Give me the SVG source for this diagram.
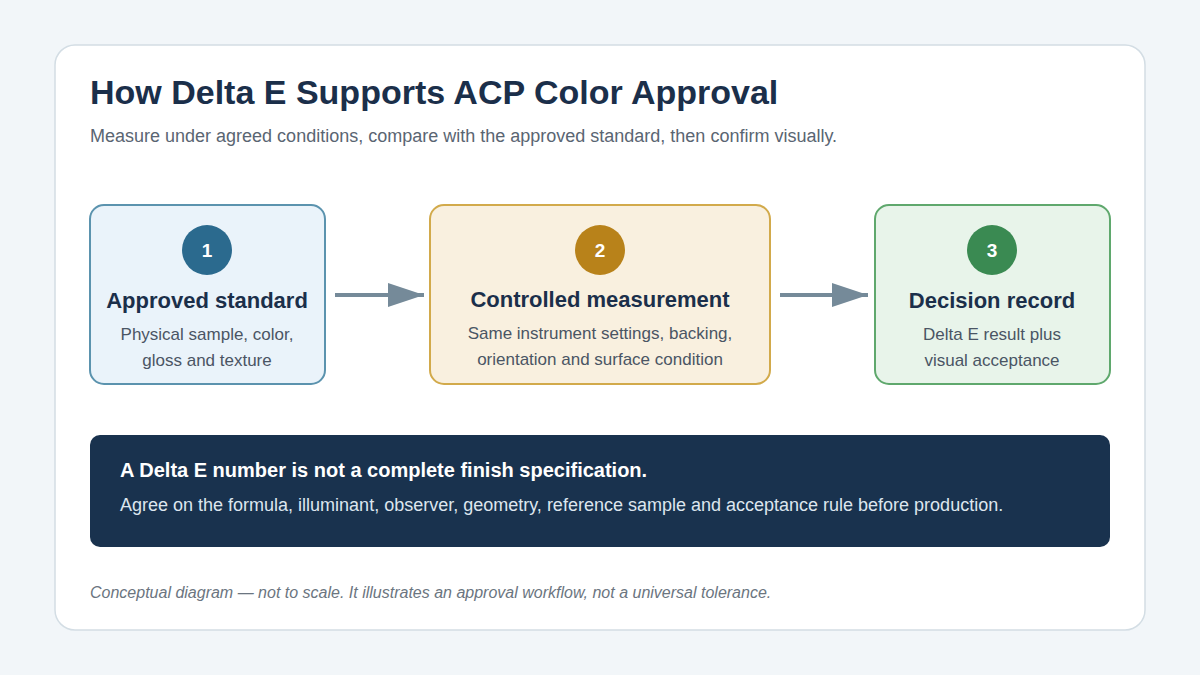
<svg xmlns="http://www.w3.org/2000/svg" width="1200" height="675" viewBox="0 0 1200 675">
<style>
text{font-family:"Liberation Sans",Arial,sans-serif}
.t{font-size:22px;font-weight:bold;fill:#1b2f4a;text-anchor:middle}
.d{font-size:17px;fill:#4a5564;text-anchor:middle}
.n{font-size:19px;font-weight:bold;fill:#fff;text-anchor:middle}
.c{stroke:#758a99;stroke-width:4;fill:none}
</style>
<defs>
<marker id="b" viewBox="0 0 36 24" markerWidth="36" markerHeight="24" refX="36" refY="12" orient="auto" markerUnits="userSpaceOnUse"><path d="M0,0 L36,12 L0,24z" fill="#758a99"/></marker></defs>
<rect width="1200" height="675" fill="#f2f6f9"/>
<rect x="55" y="45" width="1090" height="585" rx="20" fill="#fff" stroke="#d3dde4" stroke-width="1.5"/>
<text x="90" y="104" font-size="34" font-weight="bold" fill="#1b2f4a">How Delta E Supports ACP Color Approval</text>
<text x="90" y="142" font-size="18" fill="#5a6572">Measure under agreed conditions, compare with the approved standard, then confirm visually.</text>
<g id="connectors">
<line class="c" x1="335" y1="295" x2="424" y2="295" marker-end="url(#b)"/>
<line class="c" x1="780" y1="295" x2="868" y2="295" marker-end="url(#b)"/>
</g>
<g id="n1"><rect x="90" y="205" width="235" height="179" rx="14" fill="#eaf3fa" stroke="#5b93ae" stroke-width="2"/>
<circle cx="207" cy="250" r="25" fill="#2b6a8e"/><text class="n" x="207" y="257">1</text>
<text class="t" x="207" y="308">Approved standard</text>
<text class="d" x="207" y="340">Physical sample, color,</text><text class="d" x="207" y="366">gloss and texture</text></g>
<g id="n2"><rect x="430" y="205" width="340" height="179" rx="14" fill="#f9f0df" stroke="#d2aa4b" stroke-width="2"/>
<circle cx="600" cy="250" r="25" fill="#b8821a"/><text class="n" x="600" y="257">2</text>
<text class="t" x="600" y="307">Controlled measurement</text>
<text class="d" x="600" y="339">Same instrument settings, backing,</text><text class="d" x="600" y="365">orientation and surface condition</text></g>
<g id="n3"><rect x="875" y="205" width="235" height="179" rx="14" fill="#e8f4ea" stroke="#5fa86d" stroke-width="2"/>
<circle cx="992" cy="250" r="25" fill="#3a8a52"/><text class="n" x="992" y="257">3</text>
<text class="t" x="992" y="308">Decision record</text>
<text class="d" x="992" y="340">Delta E result plus</text><text class="d" x="992" y="366">visual acceptance</text></g>
<g id="note"><rect x="90" y="435" width="1020" height="112" rx="10" fill="#19324e"/>
<text x="120" y="477" font-size="20" font-weight="bold" fill="#fff">A Delta E number is not a complete finish specification.</text>
<text x="120" y="511" font-size="18" fill="#dde6ee">Agree on the formula, illuminant, observer, geometry, reference sample and acceptance rule before production.</text></g>
<text x="90" y="598" font-size="16" font-style="italic" fill="#6b7580">Conceptual diagram — not to scale. It illustrates an approval workflow, not a universal tolerance.</text>
</svg>
